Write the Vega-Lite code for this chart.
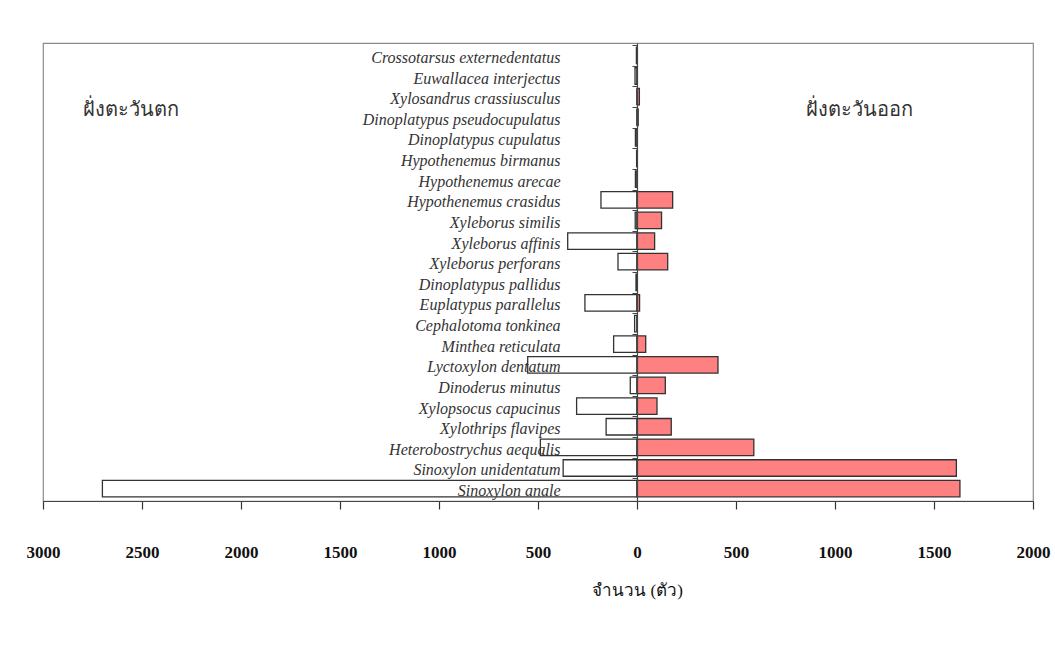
{
  "$schema": "https://vega.github.io/schema/vega-lite/v6.json",
  "width": 990,
  "height": 458,
  "autosize": "none",
  "padding": {"left": 43, "top": 43, "right": 22, "bottom": 146},
  "background": "white",
  "config": {
    "view": {"stroke": "#8c8c8c", "strokeWidth": 1.2}
  },
  "layer": [
    {
      "data": {
        "values": [
          {"species": "Crossotarsus externedentatus", "side": "ฝั่งตะวันตก", "count": -3},
          {"species": "Crossotarsus externedentatus", "side": "ฝั่งตะวันออก", "count": 0},
          {"species": "Euwallacea interjectus", "side": "ฝั่งตะวันตก", "count": -10},
          {"species": "Euwallacea interjectus", "side": "ฝั่งตะวันออก", "count": 0},
          {"species": "Xylosandrus crassiusculus", "side": "ฝั่งตะวันตก", "count": 0},
          {"species": "Xylosandrus crassiusculus", "side": "ฝั่งตะวันออก", "count": 12},
          {"species": "Dinoplatypus pseudocupulatus", "side": "ฝั่งตะวันตก", "count": 0},
          {"species": "Dinoplatypus pseudocupulatus", "side": "ฝั่งตะวันออก", "count": 6},
          {"species": "Dinoplatypus cupulatus", "side": "ฝั่งตะวันตก", "count": -8},
          {"species": "Dinoplatypus cupulatus", "side": "ฝั่งตะวันออก", "count": 0},
          {"species": "Hypothenemus birmanus", "side": "ฝั่งตะวันตก", "count": -2},
          {"species": "Hypothenemus birmanus", "side": "ฝั่งตะวันออก", "count": 0},
          {"species": "Hypothenemus arecae", "side": "ฝั่งตะวันตก", "count": -8},
          {"species": "Hypothenemus arecae", "side": "ฝั่งตะวันออก", "count": 0},
          {"species": "Hypothenemus crasidus", "side": "ฝั่งตะวันตก", "count": -182},
          {"species": "Hypothenemus crasidus", "side": "ฝั่งตะวันออก", "count": 180},
          {"species": "Xyleborus similis", "side": "ฝั่งตะวันตก", "count": -9},
          {"species": "Xyleborus similis", "side": "ฝั่งตะวันออก", "count": 124},
          {"species": "Xyleborus affinis", "side": "ฝั่งตะวันตก", "count": -350},
          {"species": "Xyleborus affinis", "side": "ฝั่งตะวันออก", "count": 89},
          {"species": "Xyleborus perforans", "side": "ฝั่งตะวันตก", "count": -96},
          {"species": "Xyleborus perforans", "side": "ฝั่งตะวันออก", "count": 155},
          {"species": "Dinoplatypus pallidus", "side": "ฝั่งตะวันตก", "count": -5},
          {"species": "Dinoplatypus pallidus", "side": "ฝั่งตะวันออก", "count": 0},
          {"species": "Euplatypus parallelus", "side": "ฝั่งตะวันตก", "count": -263},
          {"species": "Euplatypus parallelus", "side": "ฝั่งตะวันออก", "count": 13},
          {"species": "Cephalotoma tonkinea", "side": "ฝั่งตะวันตก", "count": -12},
          {"species": "Cephalotoma tonkinea", "side": "ฝั่งตะวันออก", "count": 0},
          {"species": "Minthea reticulata", "side": "ฝั่งตะวันตก", "count": -118},
          {"species": "Minthea reticulata", "side": "ฝั่งตะวันออก", "count": 44},
          {"species": "Lyctoxylon dentatum", "side": "ฝั่งตะวันตก", "count": -552},
          {"species": "Lyctoxylon dentatum", "side": "ฝั่งตะวันออก", "count": 409},
          {"species": "Dinoderus minutus", "side": "ฝั่งตะวันตก", "count": -34},
          {"species": "Dinoderus minutus", "side": "ฝั่งตะวันออก", "count": 143},
          {"species": "Xylopsocus capucinus", "side": "ฝั่งตะวันตก", "count": -305},
          {"species": "Xylopsocus capucinus", "side": "ฝั่งตะวันออก", "count": 101},
          {"species": "Xylothrips flavipes", "side": "ฝั่งตะวันตก", "count": -156},
          {"species": "Xylothrips flavipes", "side": "ฝั่งตะวันออก", "count": 173},
          {"species": "Heterobostrychus aequalis", "side": "ฝั่งตะวันตก", "count": -488},
          {"species": "Heterobostrychus aequalis", "side": "ฝั่งตะวันออก", "count": 590},
          {"species": "Sinoxylon unidentatum", "side": "ฝั่งตะวันตก", "count": -373},
          {"species": "Sinoxylon unidentatum", "side": "ฝั่งตะวันออก", "count": 1613},
          {"species": "Sinoxylon anale", "side": "ฝั่งตะวันตก", "count": -2700},
          {"species": "Sinoxylon anale", "side": "ฝั่งตะวันออก", "count": 1631}
        ]
      },
      "mark": {"type": "bar", "stroke": "#333333", "strokeWidth": 1.3},
      "encoding": {
        "y": {
          "field": "species",
          "type": "nominal",
          "sort": null,
          "scale": {"paddingInner": 0.2, "paddingOuter": 0.2},
          "axis": {
            "title": null,
            "offset": -594,
            "zindex": 1,
            "domainColor": "#444444",
            "domainWidth": 1.2,
            "tickColor": "#444444",
            "tickSize": 5,
            "bandPosition": 0,
            "tickOffset": -2,
            "labelOffset": 4,
            "labelPadding": 72,
            "labelFont": "Liberation Serif",
            "labelFontStyle": "italic",
            "labelFontSize": 16,
            "labelColor": "#333333",
            "labelLimit": 400
          }
        },
        "x": {
          "field": "count",
          "type": "quantitative",
          "scale": {"domain": [-3000, 2000], "nice": false, "zero": false},
          "axis": {
            "values": [-3000, -2500, -2000, -1500, -1000, -500, 0, 500, 1000, 1500, 2000],
            "labelExpr": "format(abs(datum.value), 'd')",
            "grid": false,
            "domainColor": "#444444",
            "domainWidth": 1.2,
            "tickColor": "#333333",
            "tickSize": 8,
            "tickWidth": 1.2,
            "labelPadding": 35,
            "labelFont": "Liberation Serif",
            "labelFontWeight": "bold",
            "labelFontSize": 17,
            "labelColor": "#111111",
            "labelFlush": false,
            "title": "จำนวน (ตัว)",
            "titleFont": "Liberation Serif",
            "titleFontSize": 17,
            "titleFontWeight": "normal",
            "titleColor": "#111111",
            "titleX": 594,
            "titleY": 81,
            "titleAlign": "center"
          }
        },
        "color": {
          "field": "side",
          "type": "nominal",
          "scale": {"domain": ["ฝั่งตะวันตก", "ฝั่งตะวันออก"], "range": ["#ffffff", "#ff8080"]},
          "legend": null
        }
      }
    },
    {
      "data": {"values": [{}]},
      "mark": {"type": "text", "text": "ฝั่งตะวันตก", "align": "left", "baseline": "middle", "fontSize": 20, "font": "Noto Sans", "color": "#333333", "dy": -7},
      "encoding": {
        "x": {"datum": -2800},
        "y": {"datum": "Dinoplatypus pseudocupulatus"}
      }
    },
    {
      "data": {"values": [{}]},
      "mark": {"type": "text", "text": "ฝั่งตะวันออก", "align": "left", "baseline": "middle", "fontSize": 20, "font": "Noto Sans", "color": "#333333", "dy": -7},
      "encoding": {
        "x": {"datum": 852},
        "y": {"datum": "Dinoplatypus pseudocupulatus"}
      }
    }
  ]
}
